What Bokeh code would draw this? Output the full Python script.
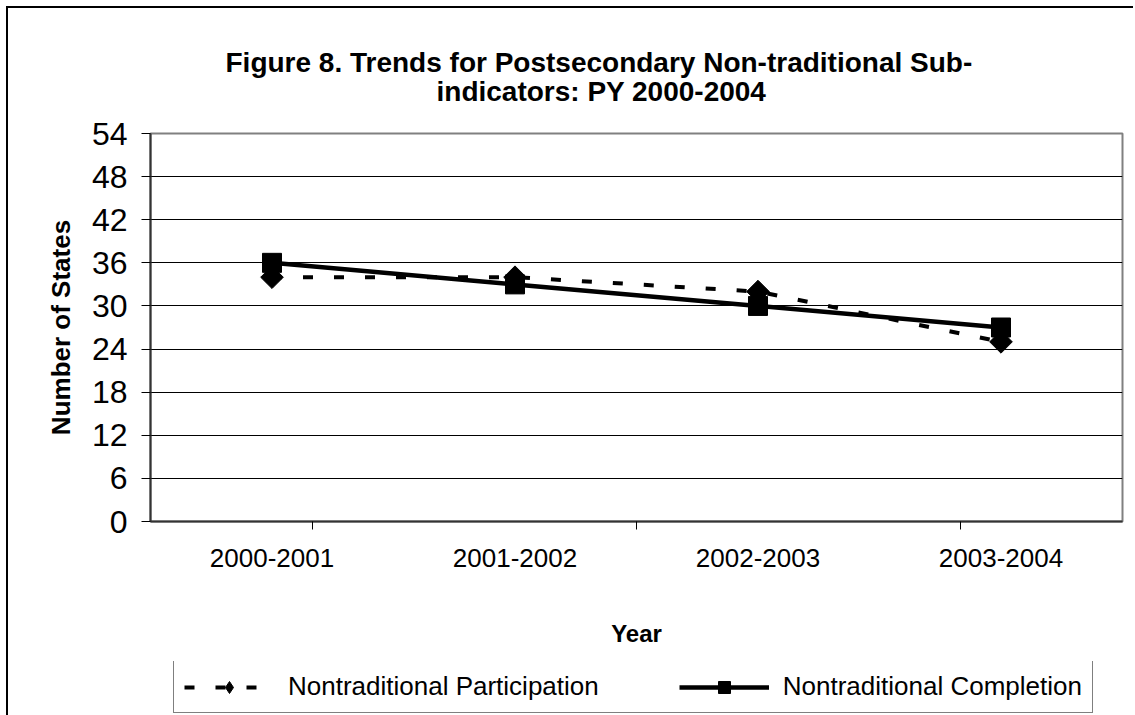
import numpy as np
from bokeh.plotting import figure
from bokeh.layouts import column
from bokeh.models import (FactorRange, Range1d, CategoricalAxis, FixedTicker,
                          Title, Legend, LegendItem, ColumnDataSource)
from bokeh.embed import file_html
from bokeh.resources import INLINE

# ---- data ----
years = ["2000-2001", "2001-2002", "2002-2003", "2003-2004"]
participation = [34, 34, 32, 25]
completion = [36, 33, 30, 27]
y_ticks = [0, 6, 12, 18, 24, 30, 36, 42, 48, 54]
title_line1 = "Figure 8.  Trends for Postsecondary Non-traditional Sub-"
title_line2 = "indicators:  PY 2000-2004"
series_names = ["Nontraditional Participation", "Nontraditional Completion"]
x_label = "Year"
y_label = "Number of States"

FONT = "Liberation Sans"
W = 1133

src = ColumnDataSource(dict(year=years, part=participation, comp=completion))

p = figure(x_range=FactorRange(*years), y_range=Range1d(0, 54),
           frame_width=972, frame_height=388,
           min_border_left=150, min_border_right=W - 150 - 972, min_border_top=133,
           min_border_bottom=140,
           x_axis_location=None, y_axis_location="left",
           output_backend="svg", toolbar_location=None,
           background_fill_color="white", border_fill_color=None,
           title=title_line1)

# titles (p.title is the outer line, the added one sits next to the frame)
p.title.text_font = FONT
p.title.text_font_size = "28px"
p.title.text_font_style = "bold"
p.title.text_color = "black"
p.title.align = "left"
p.title.offset = 75
p.title.standoff = -60
t2 = Title(text=title_line2, text_font=FONT, text_font_size="28px", text_font_style="bold",
           text_color="black", align="left", offset=286, standoff=53)
p.add_layout(t2, "above")

# frame
p.outline_line_color = "#808080"
p.outline_line_width = 2

# grids
p.xgrid.visible = False
p.ygrid.ticker = FixedTicker(ticks=y_ticks[1:-1])
p.ygrid.grid_line_color = "black"
p.ygrid.grid_line_width = 1

# y axis
yax = p.yaxis[0]
yax.ticker = FixedTicker(ticks=y_ticks)
yax.major_label_text_font = FONT
yax.major_label_text_font_size = "32px"
yax.major_label_text_color = "black"
yax.major_tick_out = 9
yax.major_tick_in = 0
yax.major_tick_line_color = "black"
yax.minor_tick_line_color = None
yax.axis_line_color = "#333333"
yax.axis_line_width = 2
yax.major_label_standoff = 14
yax.axis_label = y_label
yax.axis_label_text_font = FONT
yax.axis_label_text_font_size = "26px"
yax.axis_label_text_font_style = "bold"
yax.axis_label_text_color = "black"
yax.axis_label_standoff = 13

# x axes: category-boundary ticks + category labels
edge_factors = ["|" * (i + 1) for i in range(len(years) + 1)]
p.extra_x_ranges = {"edges": FactorRange(factors=edge_factors, range_padding=-1,
                                         range_padding_units="absolute")}
edge_axis = CategoricalAxis(x_range_name="edges",
                            major_label_text_font_size="1px", major_label_text_color=None,
                            major_label_standoff=0,
                            major_tick_out=8, major_tick_in=0, major_tick_line_color="black",
                            axis_line_color="#333333", axis_line_width=2)
p.add_layout(edge_axis, "below")

cat_axis = CategoricalAxis(axis_line_color=None, major_tick_line_color=None,
                           major_tick_out=0, major_tick_in=0,
                           major_label_text_font=FONT, major_label_text_font_size="26px",
                           major_label_text_color="black", major_label_standoff=19,
                           axis_label=x_label, axis_label_text_font=FONT,
                           axis_label_text_font_size="24px", axis_label_text_font_style="bold",
                           axis_label_text_color="black", axis_label_standoff=50)
p.add_layout(cat_axis, "below")


def add_series(fig, part_marker, part_angle, part_size, comp_size):
    r1 = fig.line(x="year", y="part", source=src, line_color="black", line_width=4,
                  line_dash="10 21")
    r2 = fig.scatter(x="year", y="part", source=src, marker=part_marker, angle=part_angle,
                     size=part_size, fill_color="black", line_color="black")
    r3 = fig.line(x="year", y="comp", source=src, line_color="black", line_width=4.5)
    r4 = fig.scatter(x="year", y="comp", source=src, marker="square", size=comp_size,
                     fill_color="black", line_color="black")
    return r1, r2, r3, r4


# plotted series (diamond = square turned 45 degrees)
add_series(p, "square", np.pi / 4, 16, 19)

# legend strip under the chart (its own canvas so the box is not clipped by the plot frame)
lf = figure(x_range=p.x_range, y_range=Range1d(100, 101), width=W, height=54,
            min_border=0, x_axis_location=None, y_axis_location=None,
            output_backend="svg", toolbar_location=None,
            background_fill_color=None, border_fill_color=None, outline_line_color=None)
lf.xgrid.visible = False
lf.ygrid.visible = False
l1, l2, l3, l4 = add_series(lf, "diamond", 0, 18, 17)
legend = Legend(items=[LegendItem(label=series_names[0], renderers=[l1, l2]),
                       LegendItem(label=series_names[1], renderers=[l3, l4])],
                orientation="horizontal", location=(23, 2),
                border_line_color="black", border_line_width=1.5,
                background_fill_color="white", background_fill_alpha=1,
                padding=10, spacing=80, glyph_width=90, glyph_height=30, label_standoff=14,
                label_text_font=FONT, label_text_font_size="26px", label_text_color="black",
                margin=0)
lf.add_layout(legend, "center")

layout = column(p, lf, spacing=0)
# outer chart border: left and top edges of the chart area
layout.styles = {
    "background-image": "linear-gradient(black, black), linear-gradient(black, black)",
    "background-size": "2px 100%, 100% 2px",
    "background-position": "6px 6px, 6px 6px",
    "background-repeat": "no-repeat",
}

open("out.html", "w").write(file_html(layout, INLINE))
